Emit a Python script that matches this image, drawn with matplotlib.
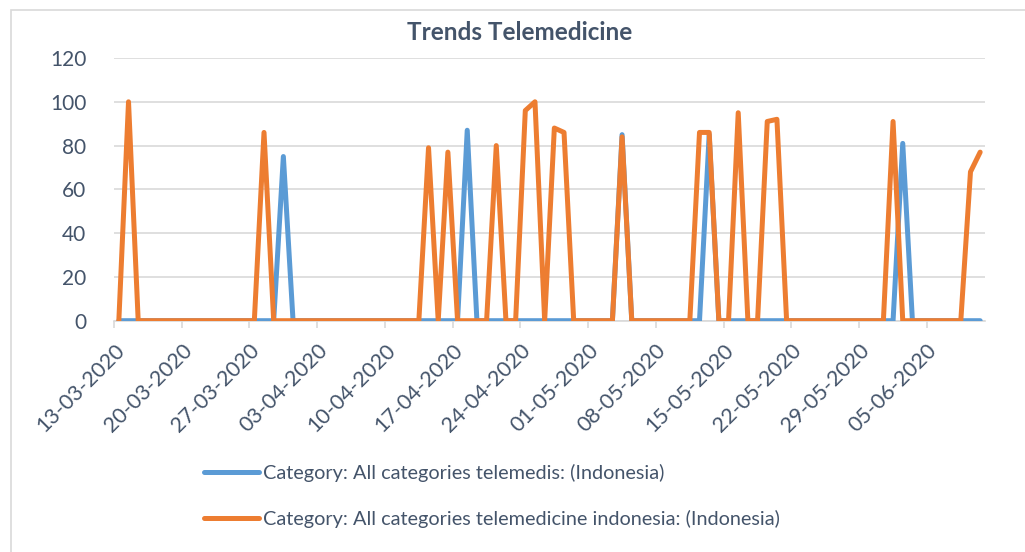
import numpy as np
import matplotlib
matplotlib.use("Agg")
import matplotlib.pyplot as plt
import datetime as dt

# daily values, 13-03-2020 .. 10-06-2020 (90 days)
start = dt.date(2020, 3, 13)
n_days = 90

# non-zero days (day index -> value); every other day is 0
telemedis_peaks = {17: 75, 36: 87, 52: 85, 61: 85, 81: 81}
telemedicine_peaks = {1: 100, 15: 86, 32: 79, 34: 77, 39: 80, 42: 96, 43: 100,
                      45: 88, 46: 86, 52: 84, 60: 86, 61: 86, 64: 95, 67: 91,
                      68: 92, 80: 91, 88: 68, 89: 77}

label_blue = "Category: All categories telemedis: (Indonesia)"
label_orange = "Category: All categories telemedicine indonesia: (Indonesia)"

telemedis = [telemedis_peaks.get(i, 0) for i in range(n_days)]
telemedicine = [telemedicine_peaks.get(i, 0) for i in range(n_days)]
dates = [start + dt.timedelta(days=i) for i in range(n_days)]

txt = "#44546A"
grid = "#D9D9D9"
plt.rcParams["font.family"] = ["Lato", "DejaVu Sans"]

fig = plt.figure(figsize=(10.25, 5.52), dpi=100)
ax = fig.add_axes([114 / 1025, 1 - 320.7 / 552, (985 - 114) / 1025, (320.7 - 58) / 552])

# chart-area border (left and top edges visible)
fig.add_artist(plt.Rectangle((11 / 1025, -0.1), 1.2, 1 - 9.5 / 552 + 0.1,
                             transform=fig.transFigure, fill=False,
                             edgecolor="#D9D9D9", lw=1.2))

x = np.arange(n_days)
ax.plot(x, telemedis, color="#5B9BD5", lw=3.6, solid_joinstyle="round",
        solid_capstyle="round", label=label_blue, zorder=3)
ax.plot(x, telemedicine, color="#ED7D31", lw=3.6, solid_joinstyle="round",
        solid_capstyle="round", label=label_orange, zorder=4)

ax.set_xlim(-0.5, n_days - 0.5)
ax.set_ylim(0, 120)
ax.set_yticks(range(0, 121, 20))
ax.yaxis.grid(True, color=grid, lw=1.2)
ax.set_axisbelow(True)
for s in ["top", "right", "left"]:
    ax.spines[s].set_visible(False)
ax.spines["bottom"].set_color(grid)
ax.spines["bottom"].set_linewidth(1.2)

tick_idx = np.arange(0, n_days, 7)
ax.set_xticks(tick_idx - 0.5)
ax.set_xticklabels([dates[i].strftime("%d-%m-%Y") for i in tick_idx],
                   rotation=45, ha="right", rotation_mode="anchor")
ax.tick_params(axis="x", colors=grid, length=5, width=1.2, labelcolor=txt,
               labelsize=15.5, pad=9)
ax.tick_params(axis="y", length=0, labelcolor=txt, labelsize=15, pad=20)

fig.text(0.507, 1 - 33 / 552, "Trends Telemedicine", ha="center", va="center",
         fontsize=17.5, fontweight="bold", color=txt)

leg = fig.legend(loc="upper left", bbox_to_anchor=(186 / 1025, 1 - 446 / 552),
                 frameon=False, fontsize=14.3, handlelength=2.8, handletextpad=0.2,
                 labelspacing=1.4, labelcolor=txt)

fig.savefig("out.png", dpi=100, facecolor="white")
